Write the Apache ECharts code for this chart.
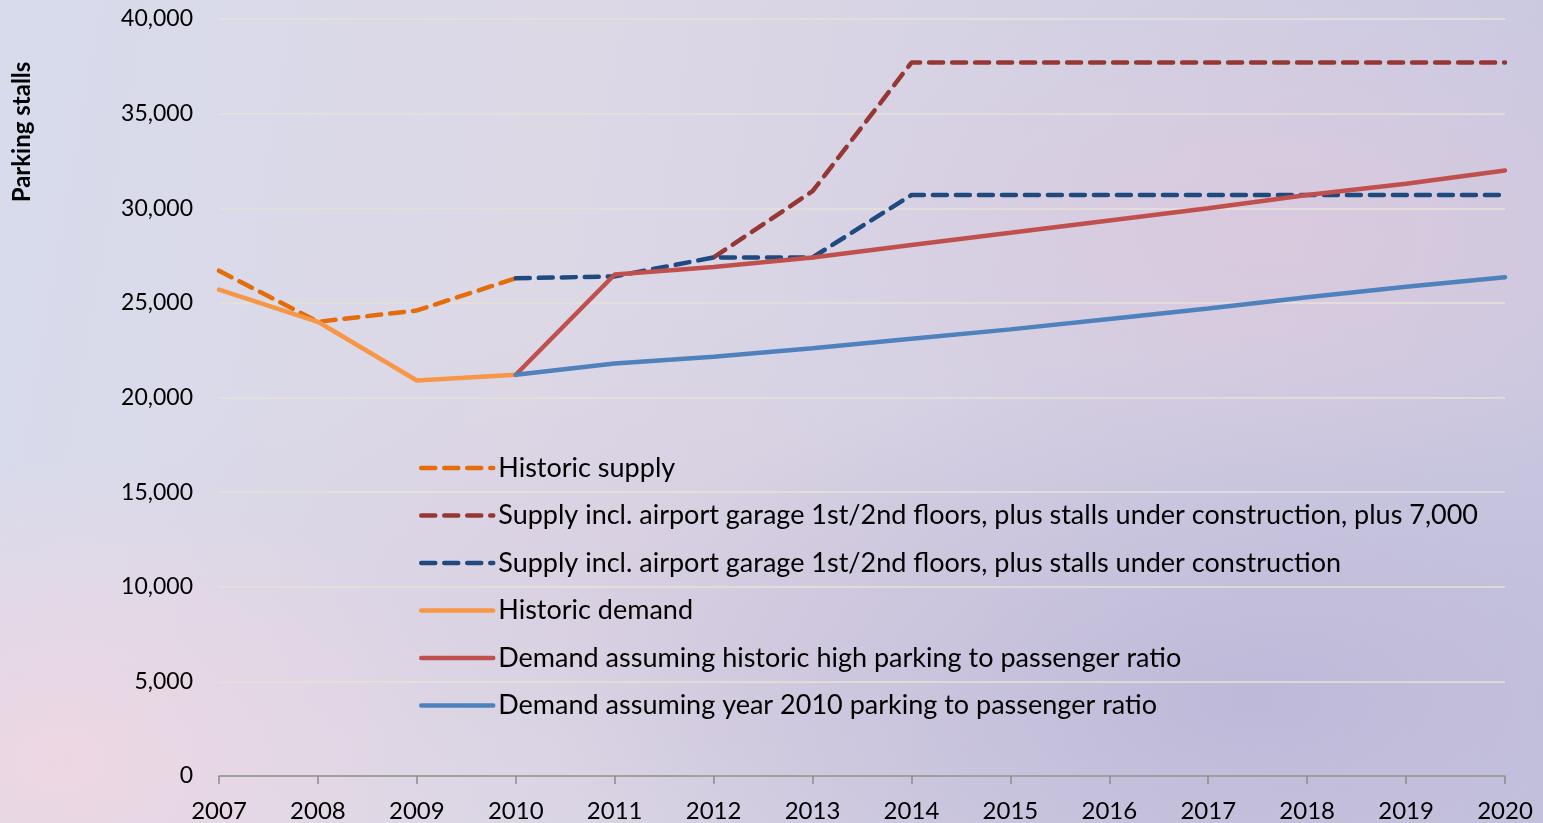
<!DOCTYPE html>
<html>
<head>
<meta charset="utf-8">
<script src="https://cdn.jsdelivr.net/npm/echarts@6/dist/echarts.min.js"></script>
<style>
  html, body { margin: 0; padding: 0; }
  #chart {
    width: 1543px; height: 823px;
    background:
      radial-gradient(ellipse 420px 300px at 60px 760px, rgba(240,214,226,0.9), rgba(240,214,226,0) 100%),
      radial-gradient(ellipse 500px 260px at 1280px 240px, rgba(222,200,220,0.7), rgba(222,200,220,0) 100%),
      radial-gradient(ellipse 700px 350px at 1250px 700px, rgba(186,180,214,0.8), rgba(186,180,214,0) 100%),
      radial-gradient(ellipse 600px 300px at 700px 600px, rgba(216,206,224,0.8), rgba(216,206,224,0) 100%),
      linear-gradient(100deg, #d7dbec 0%, #ddd8e6 35%, #d5d2e4 60%, #c8c7e0 100%);
  }
</style>
</head>
<body>
<div id="chart"></div>
<script>
// 年份与数据（停车位数）
const years = ['2007', '2008', '2009', '2010', '2011', '2012', '2013', '2014', '2015', '2016', '2017', '2018', '2019', '2020'];

const historicSupply = [26700, 24000, 24600, 26300, null, null, null, null, null, null, null, null, null, null];
const supplyPlus7000 = [null, null, null, null, null, 27400, 30900, 37700, 37700, 37700, 37700, 37700, 37700, 37700];
const supplyUnderConstruction = [null, null, null, 26300, 26400, 27400, 27400, 30700, 30700, 30700, 30700, 30700, 30700, 30700];
const historicDemand = [25700, 24000, 20900, 21200, null, null, null, null, null, null, null, null, null, null];
const demandHighRatio = [null, null, null, 21200, 26500, 26900, 27400, 28060, 28700, 29350, 30000, 30700, 31300, 32000];
const demand2010Ratio = [null, null, null, 21200, 21800, 22150, 22600, 23100, 23600, 24150, 24700, 25300, 25850, 26350];

const seriesNames = [
  'Historic supply',
  'Supply incl. airport garage 1st/2nd floors, plus stalls under construction, plus 7,000',
  'Supply incl. airport garage 1st/2nd floors, plus stalls under construction',
  'Historic demand',
  'Demand assuming historic high parking to passenger ratio',
  'Demand assuming year 2010 parking to passenger ratio'
];
const seriesData = [historicSupply, supplyPlus7000, supplyUnderConstruction, historicDemand, demandHighRatio, demand2010Ratio];
const colors = ['#E46C0A', '#953735', '#1F4A80', '#F79646', '#C0504D', '#4F81BD'];
const dashed = [true, true, true, false, false, false];

const fontFamily = 'Lato, "Open Sans", sans-serif';

const chart = echarts.init(document.getElementById('chart'));

const option = {
  backgroundColor: 'transparent',
  animation: false,
  grid: { left: 219, right: 38, top: 19, bottom: 47 },
  graphic: [{
    type: 'text',
    x: 22,
    y: 132,
    rotation: Math.PI / 2,
    style: {
      text: 'Parking stalls',
      font: 'bold 24px ' + fontFamily,
      fill: '#000',
      align: 'center',
      verticalAlign: 'middle'
    }
  }],
  legend: {
    orient: 'vertical',
    left: 414,
    top: 447,
    itemWidth: 72,
    itemHeight: 14,
    itemGap: 15.5,
    data: seriesNames,
    itemStyle: { color: 'transparent', borderWidth: 0, opacity: 0 },
    lineStyle: { width: 4.5, cap: 'round' },
    textStyle: { fontFamily: fontFamily, fontSize: 27, color: '#000', lineHeight: 32 }
  },
  xAxis: {
    type: 'category',
    boundaryGap: false,
    data: years,
    axisLine: { lineStyle: { color: '#8c8c8c', width: 1.5 } },
    axisTick: { show: true, length: 8, alignWithLabel: true, lineStyle: { color: '#8c8c8c', width: 1.5 } },
    axisLabel: { fontFamily: fontFamily, fontSize: 24, color: '#000', margin: 23, interval: 0 },
    splitLine: { show: false }
  },
  yAxis: {
    type: 'value',
    min: 0,
    max: 40000,
    interval: 5000,
    axisLine: { show: false },
    axisTick: { show: false },
    axisLabel: {
      fontFamily: fontFamily, fontSize: 23, color: '#000', margin: 26,
      formatter: v => v.toLocaleString('en-US')
    },
    splitLine: { lineStyle: { color: '#e6e2d8', width: 1.5 } }
  },
  series: seriesNames.map((name, i) => ({
    name: name,
    type: 'line',
    data: seriesData[i],
    symbol: 'none',
    connectNulls: false,
    color: colors[i],
    lineStyle: {
      color: colors[i],
      width: 4.5,
      type: dashed[i] ? [14, 9] : 'solid',
      cap: 'round'
    }
  }))
};

chart.setOption(option);
</script>
</body>
</html>
